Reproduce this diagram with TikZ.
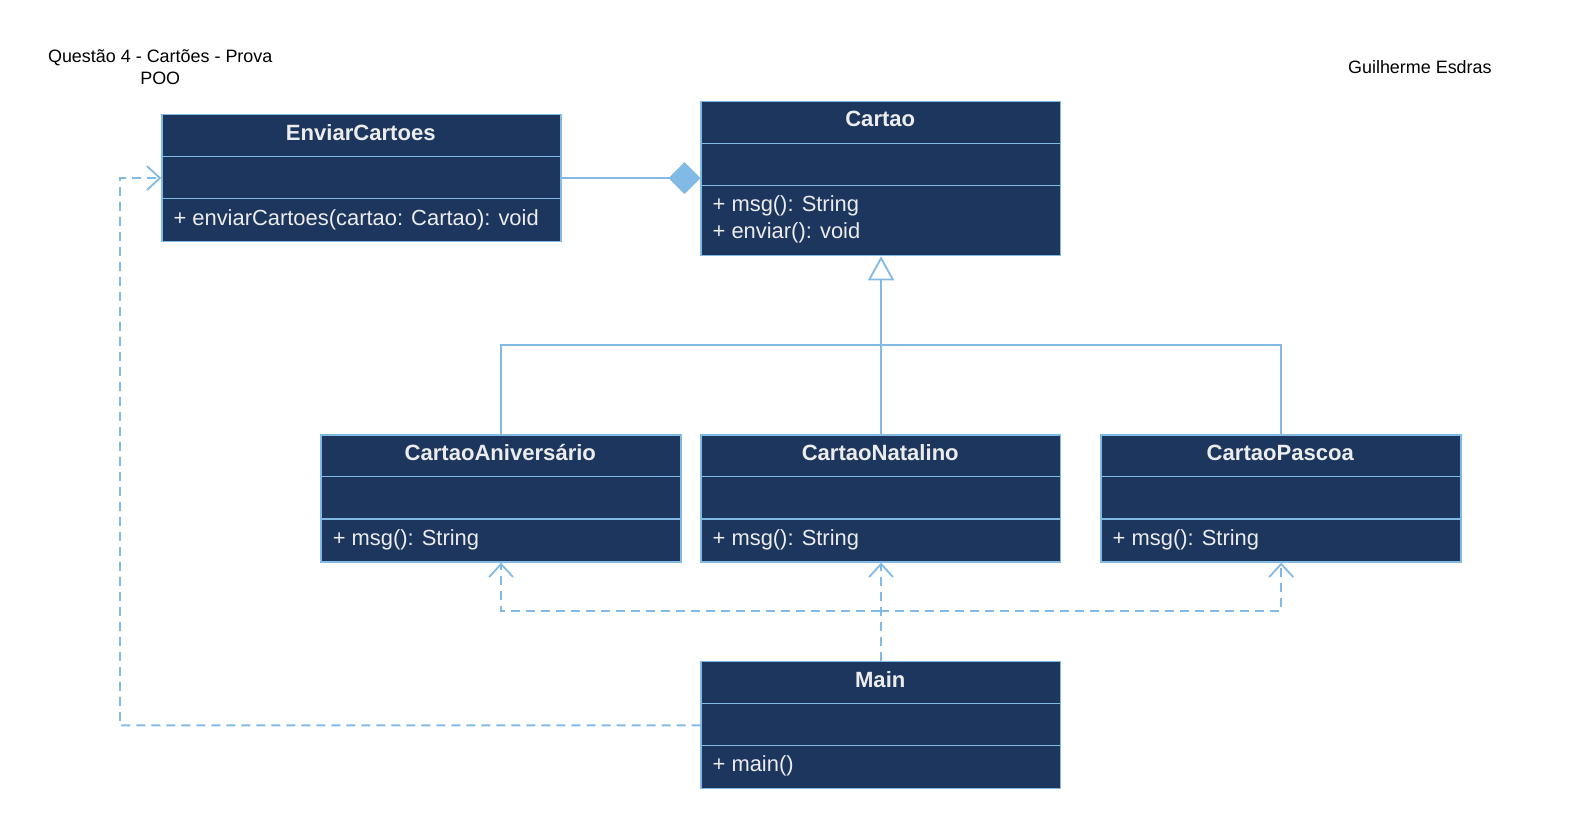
\documentclass[tikz,border=0pt]{standalone}
\usepackage{fontspec}
\setmainfont{Liberation Sans}
\usetikzlibrary{arrows.meta}
\definecolor{navy}{RGB}{28,54,93}
\definecolor{lineblue}{RGB}{130,186,230}
\definecolor{txt}{RGB}{236,236,236}
\tikzset{
  cls/.style={draw=lineblue, fill=navy, line width=1.3pt, inner sep=0pt, anchor=north west},
  sepline/.style={draw=lineblue, line width=1.1pt},
  hd/.style={text=txt, font=\bfseries\fontsize{21.9}{26}\selectfont, anchor=base, inner sep=0pt},
  mt/.style={text=txt, font=\fontsize{21.75}{26}\selectfont, anchor=base west, inner sep=0pt},
  plain/.style={text=black, font=\fontsize{17.8}{22}\selectfont, inner sep=0pt},
  conn/.style={draw=lineblue, line width=1.8pt},
  dep/.style={conn, dash pattern=on 9pt off 6pt, -{Straight Barb[length=13pt,width=24pt,line width=1.8pt]}},
  gen/.style={conn, -{Triangle[open,length=24pt,width=26pt,fill=white,line width=1.8pt]}},
  comp/.style={conn, -{Diamond[length=32pt,width=32pt]}},
}
\begin{document}
\begin{tikzpicture}[x=1pt,y=-1pt,scale=1.0077,every node/.append style={transform shape}]
\useasboundingbox (0,0) rectangle (1567.9,821.7);

% titles
\node[plain, align=center] (title) at (159,67) {Questão 4 - Cartões - Prova\\POO};
\node[plain] (author) at (1409,67) {Guilherme Esdras};

% EnviarCartoes
\node[cls, minimum width=396pt, minimum height=126pt] (env) at (160,113) {};
\draw[sepline] (160,155) -- (556,155);
\draw[sepline] (160,197) -- (556,197);
\node[hd] (envh) at (358,139) {EnviarCartoes};
\node[mt] (envm) at (172,224) {+ enviarCartoes(cartao: Cartao): void};

% Cartao
\node[cls, minimum width=357pt, minimum height=153pt] (car) at (695,100) {};
\draw[sepline] (695,142) -- (1052,142);
\draw[sepline] (695,184) -- (1052,184);
\node[hd] (carh) at (873.5,126) {Cartao};
\node[mt] (carm1) at (707,210) {+ msg(): String};
\node[mt] (carm2) at (707,237) {+ enviar(): void};

% CartaoAniversario
\node[cls, minimum width=357pt, minimum height=126pt] (ani) at (318,431) {};
\draw[sepline] (318,473) -- (675,473);
\draw[sepline] (318,515) -- (675,515);
\node[hd] (anih) at (496.5,457) {CartaoAniversário};
\node[mt] (anim) at (330,541) {+ msg(): String};

% CartaoNatalino
\node[cls, minimum width=357pt, minimum height=126pt] (nat) at (695,431) {};
\draw[sepline] (695,473) -- (1052,473);
\draw[sepline] (695,515) -- (1052,515);
\node[hd] (nath) at (873.5,457) {CartaoNatalino};
\node[mt] (natm) at (707,541) {+ msg(): String};

% CartaoPascoa
\node[cls, minimum width=357pt, minimum height=126pt] (pas) at (1092,431) {};
\draw[sepline] (1092,473) -- (1449,473);
\draw[sepline] (1092,515) -- (1449,515);
\node[hd] (pash) at (1270.5,457) {CartaoPascoa};
\node[mt] (pasm) at (1104,541) {+ msg(): String};

% Main
\node[cls, minimum width=357pt, minimum height=126pt] (main) at (695,656) {};
\draw[sepline] (695,698) -- (1052,698);
\draw[sepline] (695,740) -- (1052,740);
\node[hd] (mainh) at (873.5,682) {Main};
\node[mt] (mainm) at (707,766) {+ main()};

% composition
\draw[comp] (env.east) -- (env.east -| car.west);

% generalization
\coordinate (hub) at (873.5,342);
\draw[conn] (ani.north) |- (hub);
\draw[conn] (pas.north) |- (hub);
\draw[gen] (nat.north) -- (car.south);

% dependencies
\coordinate (dhub) at (873.5,606);
\draw[dep] (main.north) -- (nat.south);
\draw[dep] (dhub) -| (ani.south);
\draw[dep] (dhub) -| (pas.south);
\path (env.west) ++(-41,0) coordinate (c2);
\draw[dep] (main.west) -| (c2) -- (env.west);
\end{tikzpicture}
\end{document}
